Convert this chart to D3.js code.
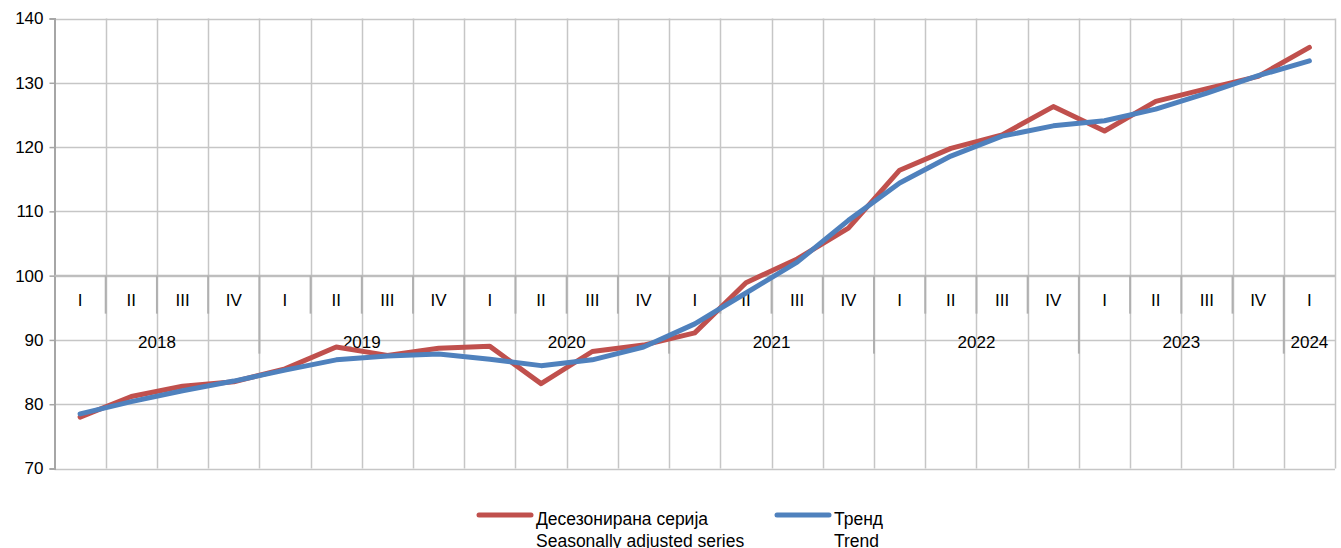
<!DOCTYPE html>
<html>
<head>
<meta charset="utf-8">
<script src="https://cdn.jsdelivr.net/npm/d3@7"></script>
<style>
  body { margin: 0; background: #fff; }
  text { font-family: "Liberation Sans", Arial, sans-serif; fill: #000; }
</style>
</head>
<body>
<script>
// quarters 2018 Q1 .. 2024 Q1
var quarters = ["I","II","III","IV","I","II","III","IV","I","II","III","IV","I","II","III","IV","I","II","III","IV","I","II","III","IV","I"];
var years = ["2018","2019","2020","2021","2022","2023","2024"];
var seasAdj = [78.0,81.2,82.8,83.5,85.5,88.9,87.6,88.7,89.0,83.2,88.2,89.2,91.1,98.9,102.6,107.4,116.4,119.8,121.9,126.3,122.5,127.1,129.1,131.0,135.5];
var trend = [78.5,80.4,82.1,83.6,85.3,86.9,87.5,87.8,87.0,86.0,86.9,88.9,92.5,97.3,102.1,108.6,114.4,118.6,121.7,123.3,124.1,125.9,128.4,131.1,133.4];
var yTicks = [70,80,90,100,110,120,130,140];

var width = 1341, height = 548;
var plotL = 54.5, plotR = 1335, plotT = 18.5, plotB = 468.5;

var svg = d3.select("body").append("svg")
	.attr("width", width)
	.attr("height", height);

var x = d3.scaleBand()
	.domain(d3.range(quarters.length))
	.range([plotL, plotR])
	.padding(0);

var y = d3.scaleLinear()
	.domain([70, 140])
	.range([plotB, plotT]);

// grid
svg.append("g").selectAll("line")
	.data(yTicks)
	.enter().append("line")
		.attr("x1", plotL).attr("x2", plotR)
		.attr("y1", function(d){ return Math.round(y(d)) + 0.5 })
		.attr("y2", function(d){ return Math.round(y(d)) + 0.5 })
		.style("stroke", "#c6c6c6")
		.style("stroke-width", 1.5);

svg.append("g").selectAll("line")
	.data(d3.range(1, quarters.length + 1))
	.enter().append("line")
		.attr("x1", function(d){ return Math.round(plotL + d * x.bandwidth()) + 0.5 })
		.attr("x2", function(d){ return Math.round(plotL + d * x.bandwidth()) + 0.5 })
		.attr("y1", plotT).attr("y2", plotB)
		.style("stroke", "#c6c6c6")
		.style("stroke-width", 1.5);

// value axis
var yAxis = svg.append("g")
	.attr("transform", "translate(" + plotL + ",0)")
	.call(d3.axisLeft(y).tickValues(yTicks).tickSize(5).tickPadding(6));
yAxis.select(".domain").style("stroke", "#a6a6a6").style("stroke-width", 2);
yAxis.selectAll(".tick line").style("stroke", "#a6a6a6").style("stroke-width", 1.5);
yAxis.selectAll("text")
	.style("font-family", "'Liberation Sans', Arial, sans-serif")
	.style("font-size", "17px")
	.style("fill", "#000");

// category axis crossing at 100
var axisY = y(100);
var cat = svg.append("g");
cat.append("line")
	.attr("x1", plotL).attr("x2", plotR)
	.attr("y1", axisY).attr("y2", axisY)
	.style("stroke", "#bdbdbd").style("stroke-width", 2);

cat.selectAll("line.qt")
	.data(d3.range(1, quarters.length))
	.enter().append("line")
		.attr("class", "qt")
		.attr("x1", function(d){ return plotL + d * x.bandwidth() })
		.attr("x2", function(d){ return plotL + d * x.bandwidth() })
		.attr("y1", axisY)
		.attr("y2", function(d){ return d % 4 == 0 ? axisY + 78 : axisY + 38 })
		.style("stroke", "#b0b0b0")
		.style("stroke-width", 2);

cat.selectAll("text.q")
	.data(quarters)
	.enter().append("text")
		.attr("class", "q")
		.attr("x", function(d, i){ return x(i) + x.bandwidth() / 2 })
		.attr("y", axisY + 30)
		.attr("text-anchor", "middle")
		.style("font-size", "17px")
		.text(function(d){ return d });

cat.selectAll("text.yr")
	.data(years)
	.enter().append("text")
		.attr("class", "yr")
		.attr("x", function(d, i){
			var first = i * 4;
			var last = Math.min(first + 3, quarters.length - 1);
			return (x(first) + x(last) + x.bandwidth()) / 2;
		})
		.attr("y", axisY + 72)
		.attr("text-anchor", "middle")
		.style("font-size", "17px")
		.text(function(d){ return d });

// lines
var line = d3.line()
	.x(function(d, i){ return x(i) + x.bandwidth() / 2 })
	.y(function(d){ return y(d) });

svg.append("path")
	.datum(seasAdj)
	.attr("d", line)
	.style("fill", "none")
	.style("stroke", "#C0504D")
	.style("stroke-width", 5)
	.style("stroke-linecap", "round")
	.style("stroke-linejoin", "round");

svg.append("path")
	.datum(trend)
	.attr("d", line)
	.style("fill", "none")
	.style("stroke", "#4F81BD")
	.style("stroke-width", 5)
	.style("stroke-linecap", "round")
	.style("stroke-linejoin", "round");

// legend
var legend = [
	{ color: "#C0504D", x: 479, l1: "Десезонирана серија", l2: "Seasonally adjusted series" },
	{ color: "#4F81BD", x: 777, l1: "Тренд", l2: "Trend" }
];
var lg = svg.selectAll("g.legend")
	.data(legend)
	.enter().append("g")
		.attr("class", "legend")
		.attr("transform", function(d){ return "translate(" + d.x + ",515)" });
lg.append("line")
	.attr("x1", 0).attr("x2", 52)
	.attr("y1", 0).attr("y2", 0)
	.style("stroke", function(d){ return d.color })
	.style("stroke-width", 5)
	.style("stroke-linecap", "round");
lg.append("text")
	.attr("x", 57).attr("y", 10)
	.style("font-size", "17.5px")
	.text(function(d){ return d.l1 });
lg.append("text")
	.attr("x", 57).attr("y", 32)
	.style("font-size", "17.5px")
	.text(function(d){ return d.l2 });
</script>
</body>
</html>
